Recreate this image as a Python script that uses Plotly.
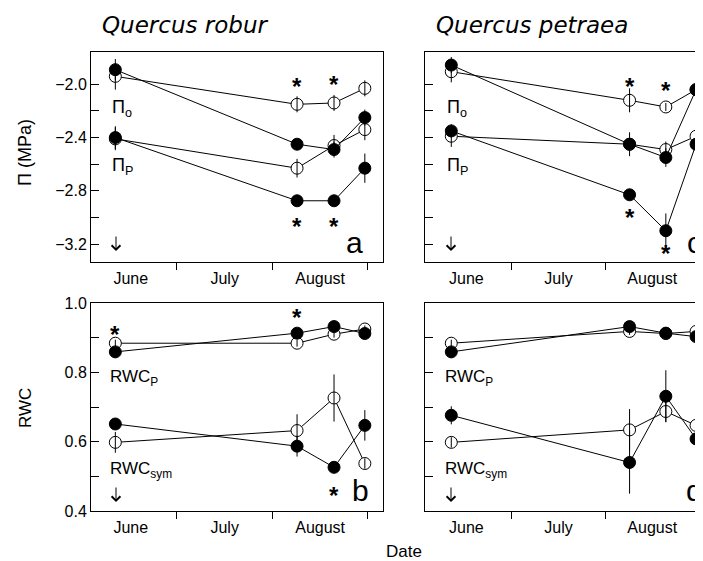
import plotly.graph_objects as go

W, H = 703, 561          # photographed window
OFF = 8                  # page body margin of the browser
FW, FH = W - OFF, H - OFF

# sampling days, counted as days after 31 May (about 10 June, 9 Aug, 20 Aug, 31 Aug)
days = [10, 69, 81, 91]
month_names = ["June", "July", "August"]
month_centres = [15, 45.5, 76.5]
month_bounds = [30, 61, 92]

pi_ticks = [-2.0, -2.4, -2.8, -3.2]
pi_ticklabels = ["\u22122.0", "\u22122.4", "\u22122.8", "\u22123.2"]
pi_minor = [-2.2, -2.6, -3.0]
rwc_ticks = [0.4, 0.6, 0.8, 1.0]
rwc_ticklabels = ["0.4", "0.6", "0.8", "1.0"]
rwc_minor = [0.5, 0.7, 0.9]

# ---- panel a : Quercus robur, osmotic potentials (MPa)
a_pio_open = [-1.94, -2.15, -2.14, -2.03]
a_pio_open_err = [0.10, 0.06, 0.06, 0.06]
a_pio_filled = [-1.89, -2.45, -2.49, -2.25]
a_pio_filled_err = [0.08, 0.03, 0.06, 0.06]
a_pip_open = [-2.41, -2.63, -2.46, -2.34]
a_pip_open_err = [0.085, 0.07, 0.08, 0.08]
a_pip_filled = [-2.40, -2.875, -2.875, -2.63]
a_pip_filled_err = [0.085, 0.03, 0.03, 0.11]

# ---- panel c : Quercus petraea, osmotic potentials (MPa)
c_pio_open = [-1.905, -2.12, -2.17, -2.04]
c_pio_open_err = [0.08, 0.09, 0.03, 0.055]
c_pio_filled = [-1.855, -2.45, -2.55, -2.04]
c_pio_filled_err = [0.06, 0.09, 0.07, 0.055]
c_pip_open = [-2.39, -2.45, -2.49, -2.39]
c_pip_open_err = [0.08, 0.04, 0.06, 0.11]
c_pip_filled = [-2.35, -2.83, -3.10, -2.45]
c_pip_filled_err = [0.05, 0.03, 0.13, 0.10]

# ---- panel b : Quercus robur, relative water content
b_rwcp_open = [0.884, 0.884, 0.910, 0.925]
b_rwcp_open_err = [0.01, 0.01, 0.01, 0.01]
b_rwcp_filled = [0.859, 0.913, 0.932, 0.912]
b_rwcp_filled_err = [0.01, 0.01, 0.01, 0.01]
b_rwcs_open = [0.598, 0.632, 0.726, 0.537]
b_rwcs_open_err = [0.03, 0.047, 0.068, 0.015]
b_rwcs_filled = [0.651, 0.587, 0.526, 0.647]
b_rwcs_filled_err = [0.01, 0.03, 0.01, 0.044]

# ---- panel d : Quercus petraea, relative water content
d_rwcp_open = [0.884, 0.918, 0.912, 0.918]
d_rwcp_open_err = [0.01, 0.01, 0.01, 0.01]
d_rwcp_filled = [0.859, 0.932, 0.913, 0.903]
d_rwcp_filled_err = [0.01, 0.01, 0.01, 0.01]
d_rwcs_open = [0.598, 0.634, 0.687, 0.647]
d_rwcs_open_err = [0.015, 0.06, 0.03, 0.08]
d_rwcs_filled = [0.676, 0.540, 0.731, 0.608]
d_rwcs_filled_err = [0.026, 0.09, 0.075, 0.045]

FONT = "Liberation Sans, Arial, sans-serif"
TXT = dict(family=FONT, size=16, color="black")

fig = go.Figure()


def add_panel(xa, ya, series):
    # series: list of (values, errors, filled)
    for vals, err, filled in sorted(series, key=lambda s: s[2]):
        fig.add_trace(go.Scatter(
            x=days, y=vals, xaxis=xa, yaxis=ya, mode="lines+markers",
            line=dict(color="black", width=1), cliponaxis=False,
            marker=dict(size=12, symbol="circle",
                        color="black" if filled else "white",
                        line=dict(color="black", width=1)),
            showlegend=False, hoverinfo="skip"))
    for vals, err, filled in series:
        fig.add_trace(go.Scatter(
            x=days, y=vals, xaxis=xa, yaxis=ya, mode="markers",
            marker=dict(size=1, color="rgba(0,0,0,0)"), cliponaxis=False,
            error_y=dict(type="data", array=err, color="black",
                         thickness=1, width=0),
            showlegend=False, hoverinfo="skip"))


add_panel("x", "y", [(a_pio_open, a_pio_open_err, False),
                     (a_pio_filled, a_pio_filled_err, True),
                     (a_pip_open, a_pip_open_err, False),
                     (a_pip_filled, a_pip_filled_err, True)])
add_panel("x2", "y2", [(c_pio_open, c_pio_open_err, False),
                       (c_pio_filled, c_pio_filled_err, True),
                       (c_pip_open, c_pip_open_err, False),
                       (c_pip_filled, c_pip_filled_err, True)])
add_panel("x3", "y3", [(b_rwcp_open, b_rwcp_open_err, False),
                       (b_rwcp_filled, b_rwcp_filled_err, True),
                       (b_rwcs_open, b_rwcs_open_err, False),
                       (b_rwcs_filled, b_rwcs_filled_err, True)])
add_panel("x4", "y4", [(d_rwcp_open, d_rwcp_open_err, False),
                       (d_rwcp_filled, d_rwcp_filled_err, True),
                       (d_rwcs_open, d_rwcs_open_err, False),
                       (d_rwcs_filled, d_rwcs_filled_err, True)])


def px_x(px):
    return (px - OFF) / FW


def px_y(py):
    return 1 - (py - OFF) / FH


def xaxis_def(domain, rng, anchor):
    return dict(domain=domain, range=rng, anchor=anchor, automargin=False,
                showline=True, mirror=True, linecolor="black", linewidth=1,
                showgrid=False, zeroline=False,
                tickmode="array", tickvals=month_centres, ticktext=month_names,
                ticks="", ticklabelstandoff=2, tickfont=TXT,
                minor=dict(tickmode="array", tickvals=month_bounds,
                           ticks="outside", ticklen=7, tickcolor="black",
                           tickwidth=1, showgrid=False))


def yaxis_def(domain, rng, anchor, ticks, labels, minor, left):
    return dict(domain=domain, range=rng, anchor=anchor, automargin=False,
                showline=True, mirror=left, linecolor="black", linewidth=1,
                showgrid=False, zeroline=False,
                tickmode="array", tickvals=ticks, ticktext=labels,
                ticks="inside", ticklen=8, tickcolor="black", tickwidth=1,
                showticklabels=left, tickfont=TXT,
                minor=dict(tickmode="array", tickvals=minor, ticks="inside",
                           ticklen=8, tickcolor="black", tickwidth=1,
                           showgrid=False))


LX = [px_x(91), px_x(383)]
RX = [px_x(425), 1.0]
TY = [px_y(262), px_y(52)]
BY = [px_y(511), px_y(303)]
L_RANGE = [2.1, 96.9]
R_RANGE = [1.3, 93.3]
PI_RANGE = [-3.335, -1.757]
RWC_RANGE = [0.4, 1.0]

fig.update_layout(
    template="none",
    width=FW, height=FH, margin=dict(l=0, r=0, t=0, b=0, pad=0),
    plot_bgcolor="white", paper_bgcolor="white", showlegend=False,
    xaxis=xaxis_def(LX, L_RANGE, "y"),
    yaxis=yaxis_def(TY, PI_RANGE, "x", pi_ticks, pi_ticklabels, pi_minor, True),
    xaxis2=xaxis_def(RX, R_RANGE, "y2"),
    yaxis2=yaxis_def(TY, PI_RANGE, "x2", pi_ticks, pi_ticklabels, pi_minor, False),
    xaxis3=xaxis_def(LX, L_RANGE, "y3"),
    yaxis3=yaxis_def(BY, RWC_RANGE, "x3", rwc_ticks, rwc_ticklabels, rwc_minor, True),
    xaxis4=xaxis_def(RX, R_RANGE, "y4"),
    yaxis4=yaxis_def(BY, RWC_RANGE, "x4", rwc_ticks, rwc_ticklabels, rwc_minor, False),
)

ann = []


def paper_text(text, px, py, size=16, angle=0, family=FONT, xanchor="center"):
    ann.append(dict(text=text, x=px_x(px), y=px_y(py), xref="paper", yref="paper",
                    showarrow=False, xanchor=xanchor, yanchor="middle",
                    textangle=angle, font=dict(family=family, size=size, color="black")))


def down_arrow(px, py_tip, length=16):
    ann.append(dict(text="", x=px_x(px), y=px_y(py_tip), xref="paper", yref="paper",
                    showarrow=True, ax=0, ay=-length, arrowhead=4, arrowsize=1.7,
                    arrowwidth=1, arrowcolor="black", standoff=0, startstandoff=0))


def star(xa, ya, i, vals, shift):
    ann.append(dict(text="<b>*</b>", x=days[i], y=vals[i], xref=xa, yref=ya,
                    showarrow=False, yshift=shift, xanchor="center", yanchor="middle",
                    font=dict(family=FONT, size=24, color="black")))


# titles
paper_text("<i>Quercus robur</i>", 185, 25, size=23, family="DejaVu Sans, sans-serif")
paper_text("<i>Quercus petraea</i>", 532, 25, size=23, family="DejaVu Sans, sans-serif")
# axis titles
paper_text("\u03a0 (MPa)", 25, 153, size=18, angle=-90)
paper_text("RWC", 25, 408, size=17, angle=-90)
paper_text("Date", 404, 551, size=17)

# in-panel labels
for x0 in (110, 445):
    paper_text("\u03a0<sub>o</sub>", x0, 108, size=18, xanchor="left")
    paper_text("\u03a0<sub>P</sub>", x0, 166, size=18, xanchor="left")
    down_arrow(x0 + 6, 251)
    paper_text("RWC<sub>P</sub>", x0 - 2, 378, size=17, xanchor="left")
    paper_text("RWC<sub>sym</sub>", x0 - 2, 470, size=17, xanchor="left")
    down_arrow(x0 + 6, 502)

# panel letters
paper_text("a", 354, 243, size=30)
paper_text("c", 694, 243, size=30)
paper_text("b", 360, 490, size=30)
paper_text("d", 694, 490, size=30)

# significance asterisks
star("x", "y", 1, a_pio_open, 18)
star("x", "y", 2, a_pio_open, 18)
star("x", "y", 1, a_pip_filled, -26)
star("x", "y", 2, a_pip_filled, -26)
star("x2", "y2", 1, c_pio_open, 14)
star("x2", "y2", 2, c_pio_open, 16)
star("x2", "y2", 1, c_pip_filled, -23)
star("x2", "y2", 2, c_pip_filled, -23)
star("x3", "y3", 0, b_rwcp_open, 9)
star("x3", "y3", 1, b_rwcp_filled, 16)
star("x3", "y3", 2, b_rwcs_filled, -28)

fig.update_layout(annotations=ann)
fig.write_html("out.html")
